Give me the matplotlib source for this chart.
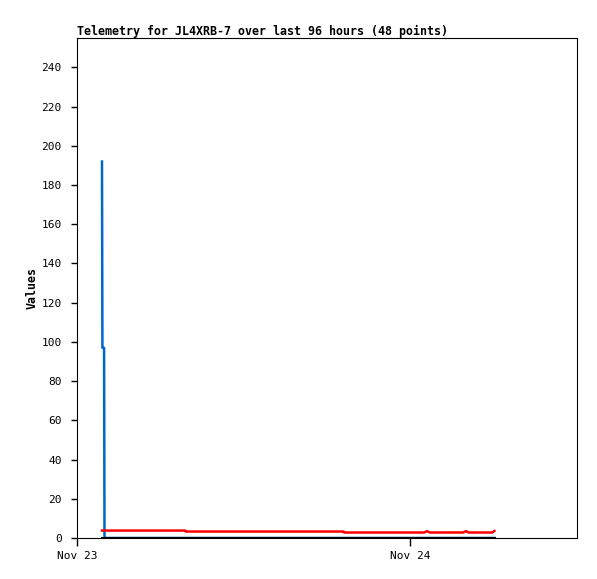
import matplotlib
matplotlib.use("Agg")
import matplotlib.pyplot as plt

# Time in hours since Nov 23 00:00
hours = [1.80, 1.83, 1.95, 1.98, 7.80, 7.83, 19.20, 19.23, 25.00, 25.20, 25.40,
         27.80, 28.00, 28.20, 29.90, 30.05]
blue_vals = [192, 97, 97, 0, 0, 0, 0, 0, 0, 0, 0, 0, 0, 0, 0, 0]
red_vals = [3.8, 3.8, 3.8, 3.8, 3.8, 3.3, 3.3, 2.8, 2.8, 3.5, 2.8, 2.8, 3.5, 2.8, 2.8, 3.6]
black_vals = [0] * len(hours)

xtick_pos = [0, 24]
xtick_labels = ["Nov 23", "Nov 24"]
ytick_pos = list(range(0, 241, 20))

W, H = 597, 579
fig = plt.figure(figsize=(W / 100, H / 100), dpi=100)
ax = fig.add_axes([77 / W, (H - 538) / H, 500 / W, 500 / H])

ax.plot(hours, blue_vals, color="#0066cc", lw=1.8)
ax.plot(hours, red_vals, color="#ff0000", lw=1.8)
ax.plot(hours, black_vals, color="#000000", lw=2.2)

ax.set_xlim(0, 36)
ax.set_ylim(0, 255)
ax.set_xticks(xtick_pos)
ax.set_xticklabels(xtick_labels)
ax.set_yticks(ytick_pos)

mono = "DejaVu Sans Mono"
for lab in ax.get_xticklabels() + ax.get_yticklabels():
    lab.set_fontfamily(mono)
    lab.set_fontsize(8)
ax.tick_params(axis="y", direction="out", length=4, width=1, pad=7)
ax.tick_params(axis="x", direction="out", length=5.5, width=1, pad=4)
for s in ax.spines.values():
    s.set_linewidth(0.8)
    s.set_color("black")

fig.text(77 / W, 1 - 31 / H, "Telemetry for JL4XRB-7 over last 96 hours (48 points)",
         fontfamily=mono, fontweight="bold", fontsize=8.4, ha="left", va="center")
fig.text(32 / W, 1 - 288 / H, "Values", fontfamily=mono, fontweight="bold",
         fontsize=8.4, rotation=90, ha="center", va="center")

fig.savefig("out.png", dpi=100)
